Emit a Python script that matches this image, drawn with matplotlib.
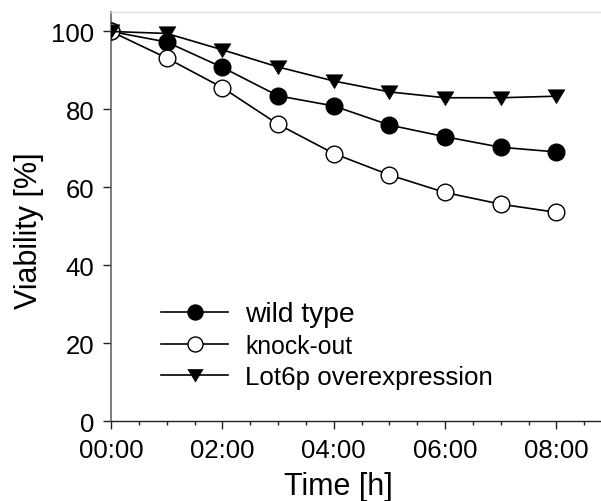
import matplotlib
matplotlib.use("Agg")
import matplotlib.pyplot as plt
from matplotlib.path import Path
from matplotlib.ticker import MultipleLocator, FuncFormatter

plt.rcParams['font.family'] = ['Liberation Sans', 'DejaVu Sans']

# Viability time course (hours after treatment)
hours = [0, 1, 2, 3, 4, 5, 6, 7, 8]
wild_type = [100, 97.3, 90.8, 83.5, 80.9, 76.0, 73.0, 70.3, 69.1]
knock_out = [100, 93.2, 85.6, 76.2, 68.7, 63.2, 58.7, 55.7, 53.6]
lot6p_over = [100, 99.5, 95.3, 90.9, 87.3, 84.5, 83.0, 83.0, 83.4]
series_labels = ["wild type", "knock-out", "Lot6p overexpression"]
x_tick_hours = [0, 2, 4, 6, 8]
y_ticks = [0, 20, 40, 60, 80, 100]

# a downward triangle slightly wider than tall
tri_down = Path([(-1.0, 0.8), (1.0, 0.8), (0.0, -0.85), (-1.0, 0.8)],
                [Path.MOVETO, Path.LINETO, Path.LINETO, Path.CLOSEPOLY])

fig = plt.figure(figsize=(6.01, 5.02), dpi=100)
ax = fig.add_axes([111 / 601, 1 - 422.3 / 502, 490 / 601, 409.3 / 502])

lw = 1.2
ax.plot(hours, wild_type, color='black', lw=lw, marker='o', ms=12,
        mfc='black', mec='black', mew=1.0, label=series_labels[0], zorder=3)
ax.plot(hours, knock_out, color='black', lw=lw, marker='o', ms=12,
        mfc='white', mec='black', mew=1.0, label=series_labels[1], zorder=4)
ax.plot(hours, lot6p_over, color='black', lw=lw, marker=tri_down, ms=12,
        mfc='black', mec='black', mew=0.5, label=series_labels[2], zorder=5)

ax.set_xlim(0, 8.8)
ax.set_ylim(0, 105)

ax.set_xticks(x_tick_hours)
ax.xaxis.set_minor_locator(MultipleLocator(0.5))
ax.xaxis.set_major_formatter(FuncFormatter(lambda v, p: f"{int(round(v)):02d}:00"))
ax.set_yticks(y_ticks)

ax.tick_params(axis='both', which='major', labelsize=18.5, length=5.5, width=1.0,
               direction='out', pad=6.5, colors='#222222', labelcolor='black')
ax.tick_params(axis='x', which='minor', length=3, width=1.0, color='#222222')
ax.tick_params(axis='y', which='minor', left=False)

ax.spines['left'].set_color('#666666')
ax.spines['left'].set_linewidth(1.2)
ax.spines['bottom'].set_color('#222222')
ax.spines['bottom'].set_linewidth(1.0)
ax.spines['top'].set_color('#e0e0e0')
ax.spines['top'].set_linewidth(1.0)
ax.spines['right'].set_visible(False)

ax.set_xlabel("Time [h]", fontsize=22)
ax.set_ylabel("Viability [%]", fontsize=22)
ax.xaxis.label.set_va('baseline')
ax.yaxis.label.set_va('center')
ax.xaxis.set_label_coords((338 - 111) / 490, (422.3 - 495.5) / 409.3)
ax.yaxis.set_label_coords((29 - 111) / 490, (422.3 - 231) / 409.3)

leg = ax.legend(loc='upper left', bbox_to_anchor=((161 - 111) / 490, (422.3 - 302) / 409.3),
                frameon=False, fontsize=18.6, handlelength=2.6, handletextpad=0.66,
                labelspacing=0.28, borderaxespad=0, borderpad=0, markerscale=0.9)
for txt, size in zip(leg.get_texts(), [20.3, 17.8, 18.6]):
    txt.set_fontsize(size)

fig.savefig("out.png", dpi=100)
